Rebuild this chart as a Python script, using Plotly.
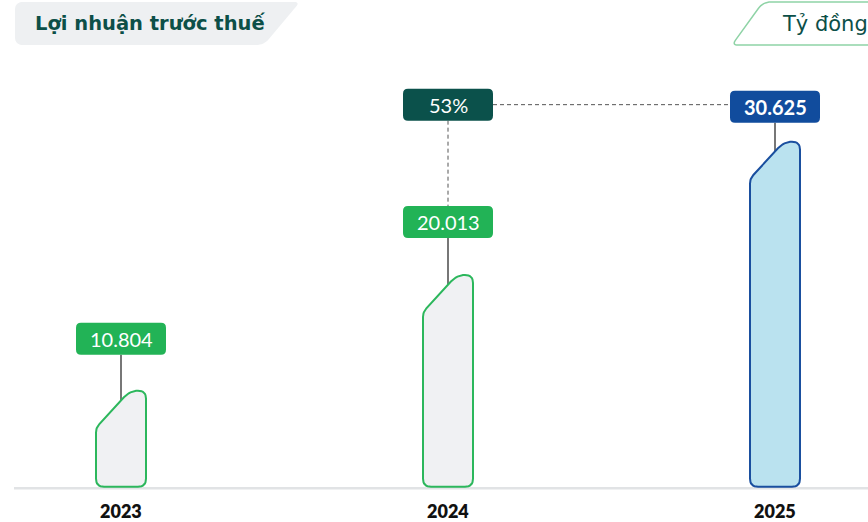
import numpy as np
import plotly.graph_objects as go

# ---- data -------------------------------------------------------------
YEARS = ["2023", "2024", "2025"]
PROFIT = [10804, 20013, 30625]          # tỷ đồng
TITLE = "Lợi nhuận trước thuế"
UNIT = "Tỷ đồng"

# ---- geometry / scales -------------------------------------------------
W, H = 868, 522
FONT = "Lato"
HEAD_FONT = "DejaVu Sans"
STEP_PX = 327                      # distance between category centres
X0_PX = 121                        # centre of first category
X_RANGE = [-X0_PX / STEP_PX, (W - X0_PX) / STEP_PX]

Y_FLOOR = 3160                     # value sitting on the baseline
FLOOR_PX = 486.7                   # baseline row, from the top
PX_PER_UNIT = 0.012563
Y_RANGE = [Y_FLOOR - (H - FLOOR_PX) / PX_PER_UNIT, Y_FLOOR + FLOOR_PX / PX_PER_UNIT]


def dx(px):
    return px / STEP_PX


def dy(px):
    return px / PX_PER_UNIT


def rounded_poly(pts, radii, n=9):
    """Polygon with quadratic-rounded corners (pixel space)."""
    out = []
    k = len(pts)
    for i in range(k):
        p, c, nx = np.array(pts[i - 1], float), np.array(pts[i], float), np.array(pts[(i + 1) % k], float)
        r = radii[i]
        if r <= 0:
            out.append(c)
            continue
        v1, v2 = p - c, nx - c
        l1, l2 = np.linalg.norm(v1), np.linalg.norm(v2)
        a = c + v1 / l1 * min(r, l1 / 2)
        b = c + v2 / l2 * min(r, l2 / 2)
        for t in np.linspace(0, 1, n):
            out.append((1 - t) ** 2 * a + 2 * (1 - t) * t * c + t ** 2 * b)
    out.append(out[0])
    return np.array(out)


def rrect_path(cx, cy, w, h, r):
    x0, x1 = cx - w / 2, cx + w / 2
    y0, y1 = cy - h / 2, cy + h / 2
    return (f"M{x0 + r},{y0} L{x1 - r},{y0} Q{x1},{y0} {x1},{y0 + r} "
            f"L{x1},{y1 - r} Q{x1},{y1} {x1 - r},{y1} L{x0 + r},{y1} "
            f"Q{x0},{y1} {x0},{y1 - r} L{x0},{y0 + r} Q{x0},{y0} {x0 + r},{y0} Z")


def paper_path(poly):
    pts = [(x / W, 1 - y / H) for x, y in poly]
    return "M" + " L".join(f"{x:.5f},{y:.5f}" for x, y in pts) + " Z"


# ---- styles --------------------------------------------------------------
BAR_FILL = ["#f0f1f3", "#f0f1f3", "#bae2ef"]
BAR_LINE = ["#2cb75c", "#2cb75c", "#1a4f9f"]
LABEL_BG = ["#22b356", "#22b356", "#114c9d"]
LABEL_BOLD = [False, False, True]
LABEL_RISE = [52, 53, 35]          # px from bar top to label centre
BAR_W = 50
LBL_W, LBL_H = 90, 32
DARK = "#0c4f48"

fig = go.Figure()
shapes = []
annotations = []

# baseline
shapes.append(dict(type="line", xref="paper", yref="y", x0=14 / W, x1=1,
                   y0=Y_FLOOR - dy(1.6), y1=Y_FLOOR - dy(1.6),
                   line=dict(color="#e1e3e5", width=2.5), layer="below"))

for i, (year, v) in enumerate(zip(YEARS, PROFIT)):
    h = (v - Y_FLOOR) * PX_PER_UNIT
    hw = BAR_W / 2
    pts = [(-hw, 0), (hw, 0), (hw, h), (-hw + 34, h), (-hw, h - 37)]
    poly = rounded_poly(pts, [8, 8, 8, 9, 5])
    fig.add_trace(go.Scatter(
        x=i + poly[:, 0] / STEP_PX, y=Y_FLOOR + poly[:, 1] / PX_PER_UNIT,
        mode="lines", fill="toself", fillcolor=BAR_FILL[i],
        line=dict(color=BAR_LINE[i], width=2), hoverinfo="skip", name=year))

    rise = LABEL_RISE[i]
    # connector from label to bar
    shapes.append(dict(type="line", xref="x", yref="y", ysizemode="pixel",
                       yanchor=v, x0=i, x1=i, y0=rise - LBL_H / 2, y1=-14,
                       line=dict(color="#4a4a4a", width=1.5), layer="below"))
    # label box
    shapes.append(dict(type="path", xref="x", yref="y", xsizemode="pixel",
                       ysizemode="pixel", xanchor=i, yanchor=v,
                       path=rrect_path(0, rise, LBL_W, LBL_H, 5),
                       fillcolor=LABEL_BG[i], line=dict(width=0)))
    txt = f"{v:,}".replace(",", ".")
    annotations.append(dict(x=i, y=v, xref="x", yref="y", yshift=rise,
                            text=txt, showarrow=False,
                            font=dict(family=FONT, size=20, color="white",
                                      weight=700 if LABEL_BOLD[i] else 400)))
    # year label
    annotations.append(dict(x=i, y=Y_FLOOR, xref="x", yref="y", yshift=-24,
                            text=year, showarrow=False,
                            font=dict(family=FONT, size=18, color="#111111", weight=800)))

# growth 2024 -> 2025
growth = (PROFIT[2] / PROFIT[1] - 1) * 100
G_RISE = 37
shapes.append(dict(type="line", xref="x", yref="y", x0=1, x1=1,
                   y0=PROFIT[2] + dy(G_RISE - LBL_H / 2), y1=PROFIT[1] + dy(LABEL_RISE[1] + LBL_H / 2),
                   line=dict(color="#555555", width=1, dash="4px,3px"), layer="below"))
shapes.append(dict(type="line", xref="x", yref="y", x0=1 + dx(LBL_W / 2), x1=2 - dx(LBL_W / 2),
                   y0=PROFIT[2] + dy(G_RISE), y1=PROFIT[2] + dy(G_RISE),
                   line=dict(color="#555555", width=1, dash="4px,3px"), layer="below"))
shapes.append(dict(type="path", xref="x", yref="y", xsizemode="pixel",
                   ysizemode="pixel", xanchor=1, yanchor=PROFIT[2],
                   path=rrect_path(0, G_RISE, LBL_W, LBL_H, 5),
                   fillcolor="#0b514b", line=dict(width=0)))
annotations.append(dict(x=1, y=PROFIT[2], xref="x", yref="y", yshift=G_RISE,
                        text=f"{growth:.0f}%", showarrow=False,
                        font=dict(family=FONT, size=20, color="white")))

# title tab
title_poly = rounded_poly([(15, 2), (300, 2), (264, 45), (15, 45)], [8, 6, 8, 8])
shapes.append(dict(type="path", xref="paper", yref="paper", path=paper_path(title_poly),
                   fillcolor="#eef0f2", line=dict(width=0), layer="below"))
annotations.append(dict(x=33 / W, y=1 - 24 / H, xref="paper", yref="paper",
                        xanchor="left", yanchor="middle", text=TITLE, showarrow=False,
                        font=dict(family=HEAD_FONT, size=19.5, color=DARK, weight=700)))

# unit tab
unit_poly = rounded_poly([(763, 2), (900, 2), (900, 45), (732, 45)], [8, 0, 0, 6])
shapes.append(dict(type="path", xref="paper", yref="paper", path=paper_path(unit_poly),
                   fillcolor="rgba(0,0,0,0)", line=dict(color="#8fd3a6", width=1.5)))
annotations.append(dict(x=780 / W, y=1 - 24 / H, xref="paper", yref="paper",
                        xanchor="left", yanchor="middle", text=UNIT, showarrow=False,
                        font=dict(family=HEAD_FONT, size=21, color=DARK)))

fig.update_layout(
    width=W, height=H, margin=dict(l=0, r=0, t=0, b=0),
    paper_bgcolor="white", plot_bgcolor="white",
    xaxis=dict(visible=False, range=X_RANGE, fixedrange=True),
    yaxis=dict(visible=False, range=Y_RANGE, fixedrange=True),
    showlegend=False, hovermode=False,
    shapes=shapes, annotations=annotations,
)

fig.write_html("out.html")
